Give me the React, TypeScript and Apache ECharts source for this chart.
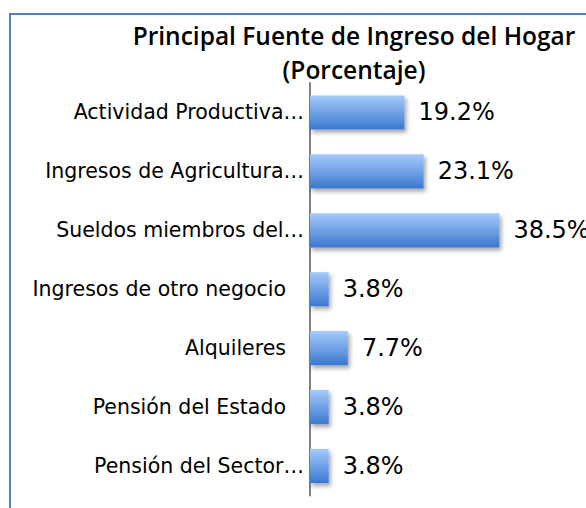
import React, { useEffect, useRef } from "react";
import * as echarts from "echarts";

const categories = [
  "Actividad Productiva…",
  "Ingresos de Agricultura…",
  "Sueldos miembros del…",
  "Ingresos de otro negocio",
  "Alquileres",
  "Pensión del Estado",
  "Pensión del Sector…",
];
const values = [19.2, 23.1, 38.5, 3.8, 7.7, 3.8, 3.8];
const titleLines = ["Principal Fuente de Ingreso del Hogar", "(Porcentaje)"];

export default function App() {
  const ref = useRef<HTMLDivElement>(null);
  useEffect(() => {
    const chart = echarts.init(ref.current!, null, { renderer: "svg" });
    chart.setOption({
      animation: false,
      backgroundColor: "#ffffff",
      title: {
        text: titleLines.join("\n"),
        left: 349,
        textAlign: "center",
        top: 13,
        textStyle: {
          fontFamily: "Open Sans",
          fontWeight: 600,
          fontSize: 24.5,
          lineHeight: 34,
          color: "#000",
        },
      },
      graphic: [
        {
          type: "rect",
          shape: { x: 10, y: 14, width: 600, height: 520 },
          style: { fill: "none", stroke: "#4f81bd", lineWidth: 2 },
          silent: true,
          z: -1,
        },
      ],
      grid: { left: 310, right: 30, top: 83, bottom: 12.5 },
      xAxis: {
        type: "value",
        min: 0,
        max: 50,
        show: false,
      },
      yAxis: {
        type: "category",
        data: categories,
        inverse: true,
        axisLine: { show: true, lineStyle: { color: "#808080", width: 2 } },
        axisTick: { show: false },
        axisLabel: {
          margin: 6,
          fontFamily: "DejaVu Sans",
          fontSize: 20.5,
          color: "#000",
          formatter: (name: string) =>
            name.endsWith("…") ? name : name + "{gap|}",
          rich: { gap: { width: 18 } },
        },
      },
      series: [
        {
          type: "bar",
          data: values,
          barWidth: "58%",
          itemStyle: {
            color: new echarts.graphic.LinearGradient(0, 0, 0, 1, [
              { offset: 0, color: "#a6cafb" },
              { offset: 1, color: "#3b78cf" },
            ]),
            shadowColor: "rgba(0,0,0,0.35)",
            shadowBlur: 4,
            shadowOffsetX: 2,
            shadowOffsetY: 3,
          },
          label: {
            show: true,
            position: "right",
            distance: 14,
            formatter: (p: any) => p.value.toFixed(1) + "%",
            fontFamily: "DejaVu Sans",
            fontSize: 24,
            color: "#000",
          },
        },
      ],
    });
    return () => chart.dispose();
  }, []);
  return (
    <div
      ref={ref}
      style={{ position: "absolute", left: 0, top: 0, width: 586, height: 508 }}
    />
  );
}
